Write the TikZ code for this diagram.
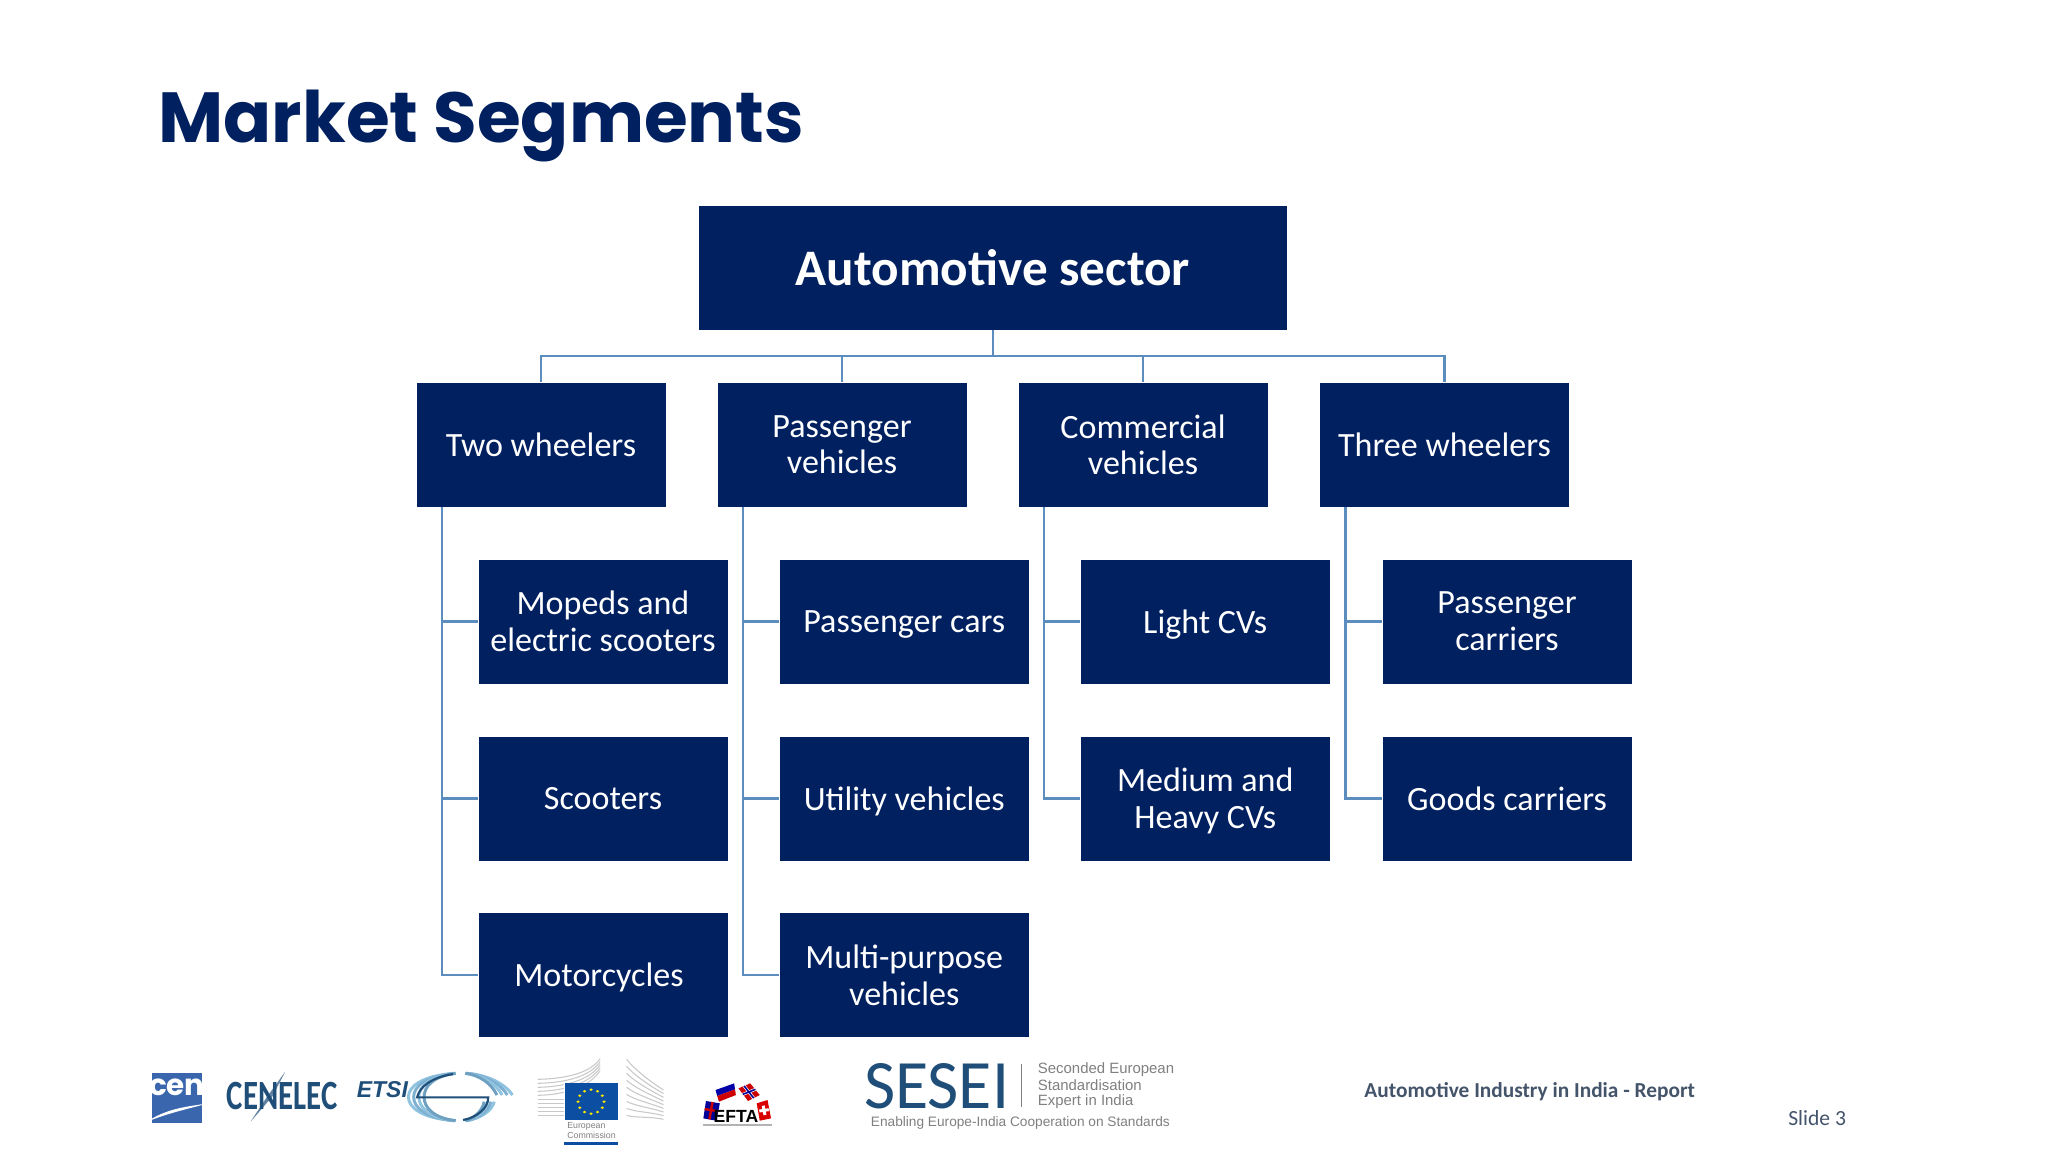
\documentclass[tikz,border=0pt]{standalone}
\usepackage{fontspec}
\setmainfont{Carlito}
\newfontfamily\titlefont{Poppins}[BoldFont={* Bold}]
\newfontfamily\libsans{Liberation Sans}
\newcommand{\nd}[1]{\raisebox{0pt}[\height][0pt]{#1}}
\definecolor{navy}{HTML}{002060}
\definecolor{link}{HTML}{5B8DBE}
\definecolor{footgrey}{HTML}{44546A}
\definecolor{logoblue}{HTML}{1F4E79}
\definecolor{cenblue}{HTML}{3A66AD}
\definecolor{etsil}{HTML}{8FC3E0}
\definecolor{eublue}{HTML}{0B4EA2}
\definecolor{bldg}{HTML}{C9C9C9}
\definecolor{logogrey}{HTML}{808080}
\tikzset{
  rootbox/.style={fill=navy,text=white,minimum width=588pt*0.375,minimum height=124pt*0.375,inner sep=0pt,align=center,font=\fontsize{19.2}{21}\selectfont\bfseries},
  box/.style={fill=navy,text=white,minimum width=249pt*0.375,minimum height=124pt*0.375,inner sep=0pt,align=center,font=\fontsize{12.76}{13.75}\selectfont},
  link/.style={draw=link,line width=0.9pt},
  txt/.style={inner sep=0pt},
  logozoomA/.style={shift={(130,1040)},xscale=0.4337,yscale=0.3333},
  logozoomB/.style={shift={(840,1040)},xscale=0.676,yscale=0.3333},
}
\begin{document}
\begin{tikzpicture}[x=0.375pt,y=-0.375pt]
\fill[white] (0,0) rectangle (2048,1152);
\useasboundingbox (0,0) rectangle (2048,1152);
\node[txt,anchor=base west,text=navy,font=\titlefont\fontsize{26.6}{30}\selectfont\bfseries] (title) at (158,142) {Market Segments};

\node[rootbox] (root) at (993,267.5) {Automotive sector};
\node[box] (tw) at (541,444.75) {Two wheelers};
\node[box] (pv) at (842,444.75) {Passenger\\vehicles};
\node[box] (cv) at (1143,444.75) {Commercial\\vehicles};
\node[box] (th) at (1444.5,444.75) {Three wheelers};

\node[box] (a1) at (603,621.5) {Mopeds and\\electric scooters};
\node[box] (a2) at (603,798.5) {Scooters};
\node[box] (a3) at (603,975) {\nd{Motorcycles}\hspace*{3pt}};
\node[box] (b1) at (904.25,621.5) {\nd{Passenger cars}};
\node[box] (b2) at (904.25,798.5) {\nd{Utility vehicles}};
\node[box] (b3) at (904.25,975) {Multi-purpose\\vehicles};
\node[box] (c1) at (1205.25,621.5) {\nd{Light CVs}};
\node[box] (c2) at (1205.25,798.5) {Medium and\\\nd{Heavy CVs}};
\node[box] (d1) at (1507,621.5) {Passenger\\carriers};
\node[box] (d2) at (1507,798.5) {\nd{Goods carriers}};

\coordinate (bus) at (993,356);
\draw[link] (root.south) -- (bus);
\foreach \n in {tw,pv,cv,th} \draw[link] (bus) -| (\n.north);
\coordinate (twt) at ([xshift=9.7pt]tw.south west);
\coordinate (pvt) at ([xshift=9.7pt]pv.south west);
\coordinate (cvt) at ([xshift=9.7pt]cv.south west);
\coordinate (tht) at ([xshift=9.7pt]th.south west);
\foreach \n in {a1,a2,a3} \draw[link] (twt) |- (\n.west);
\foreach \n in {b1,b2,b3} \draw[link] (pvt) |- (\n.west);
\foreach \n in {c1,c2} \draw[link] (cvt) |- (\n.west);
\foreach \n in {d1,d2} \draw[link] (tht) |- (\n.west);

% CEN
\begin{scope}[logozoomA]
\fill[cenblue] (50,100) rectangle (166,250);
\node[txt,text=white,font=\titlefont\fontsize{11}{12}\selectfont\bfseries] (cen) at (108,141) {cen};
\fill[white] (38,246) .. controls (85,205) and (130,200) .. (180,190) .. controls (130,208) and (85,220) .. cycle;
% CENELEC
\fill[logoblue!70] (358,95) -- (328,170) -- (278,245) -- (316,170) -- cycle;
\node[txt,text=logoblue,xscale=0.74,font=\fontsize{15.6}{16}\selectfont\bfseries] (cenelec) at (351,168) {CENELEC};
% ETSI
\node[txt,text=logoblue,anchor=west,font=\libsans\fontsize{8.6}{9}\selectfont\bfseries\itshape] (etsi) at (522,148) {ETSI};
\foreach \r/\c in {120/etsil,108/etsil!85!logoblue,96/etsil,84/etsil!70!logoblue}{
  \draw[\c,line width=1.1pt] ({762-\r*0.13},100) .. controls ({762-\r*0.75},108) and ({762-\r},140) .. ({762-\r},171) .. controls ({762-\r},202) and ({762-\r*0.75},234) .. ({762-\r*0.13},242);
  \draw[\c,line width=1.1pt] ({762+\r*0.13},100) .. controls ({762+\r*0.5},104) and ({762+\r*0.85},130) .. ({762+\r},165);
  \draw[\c,line width=1.1pt] ({762+\r*0.13},242) .. controls ({762+\r*0.35},236) and ({762+\r*0.6},215) .. ({762+\r*0.65},185);
}
\draw[logoblue,line width=0.8pt] (745,102) .. controls (695,112) and (668,140) .. (662,172) -- (826,172) .. controls (826,205) and (800,232) .. (768,240);
% European Commission
\foreach \k in {0,...,4}
  \draw[bldg,line width=0.4pt] (940,{118+\k*12}) .. controls (1005,{116+\k*12}) and (1060,{100+\k*10}) .. (1084,{56+\k*9});
\foreach \k in {5,...,9}
  \draw[bldg,line width=0.4pt] (940,{118+\k*12}) -- (1002,{118+\k*12});
\foreach \k in {0,...,8}
  \draw[bldg,line width=0.4pt] (1145,{58+\k*21}) .. controls (1165,{90+\k*18}) and (1200,{125+\k*13}) .. (1230,{150+\k*11});
\fill[white] (1000,128) rectangle (1127,242);
\fill[eublue] (1002,130) rectangle (1125,240);
\foreach \a in {0,30,...,330}
  \fill[yellow!90!orange] ({1063+30*cos(\a)},{185+36*sin(\a)}) circle[radius=4];
\node[txt,text=logogrey,anchor=west,align=left,font=\libsans\fontsize{3.3}{3.6}\selectfont] (ec) at (1007,272) {European\\Commission};
\fill[eublue] (1000,305) rectangle (1125,316);
% EFTA
\fill[blue!60!black] (1328,183) -- (1360,190) -- (1352,242) -- (1322,235) -- cycle;
\draw[red!80!black,line width=0.9pt] (1343,186) -- (1336,238) (1325,207) -- (1356,214);
\fill[blue!65!black] (1350,150) -- (1393,130) -- (1395,148) -- (1354,168) -- cycle;
\fill[red!80!black] (1354,168) -- (1395,148) -- (1397,165) -- (1358,185) -- cycle;
\fill[red!80!black] (1403,145) -- (1430,130) -- (1452,165) -- (1425,183) -- cycle;
\draw[white,line width=1.1pt] (1416,138) -- (1438,174) (1413,163) -- (1442,148);
\draw[blue!60!black,line width=0.6pt] (1416,138) -- (1438,174) (1413,163) -- (1442,148);
\fill[red!85!black] (1445,190) -- (1470,180) -- (1478,235) -- (1452,242) -- cycle;
\draw[white,line width=1.1pt] (1460,197) -- (1464,225) (1451,213) -- (1473,209);
\node[txt,text=black,font=\libsans\fontsize{6.6}{7}\selectfont\bfseries] (efta) at (1397,229) {EFTA};
\fill[logogrey!60] (1322,252) rectangle (1480,258);
\end{scope}

% SESEI
\begin{scope}[logozoomB]
\node[txt,text=logoblue,xscale=0.98,font=\fontsize{26}{27}\selectfont] (sesei) at (143,140) {SESEI};
\draw[logogrey,line width=0.3pt] (268,72) -- (268,202);
\node[txt,anchor=west,text=logogrey,font=\libsans\fontsize{5.6}{6}\selectfont] (s1) at (292,90) {Seconded European};
\node[txt,anchor=west,text=logogrey,font=\libsans\fontsize{5.6}{6}\selectfont] (s2) at (292,136) {Standardisation};
\node[txt,anchor=west,text=logogrey,font=\libsans\fontsize{5.6}{6}\selectfont] (s3) at (292,184) {Expert in India};
\node[txt,anchor=west,text=logogrey,font=\libsans\fontsize{5.13}{6}\selectfont] (s4) at (45,248) {Enabling Europe-India Cooperation on Standards};
\node[txt,anchor=west,text=footgrey,font=\fontsize{8}{9}\selectfont\bfseries] (foot) at (775,155) {Automotive Industry in India - Report};
\node[txt,anchor=west,text=footgrey,font=\fontsize{8.1}{9}\selectfont] (slide) at (1402,235) {Slide 3};
\end{scope}
\end{tikzpicture}
\end{document}
